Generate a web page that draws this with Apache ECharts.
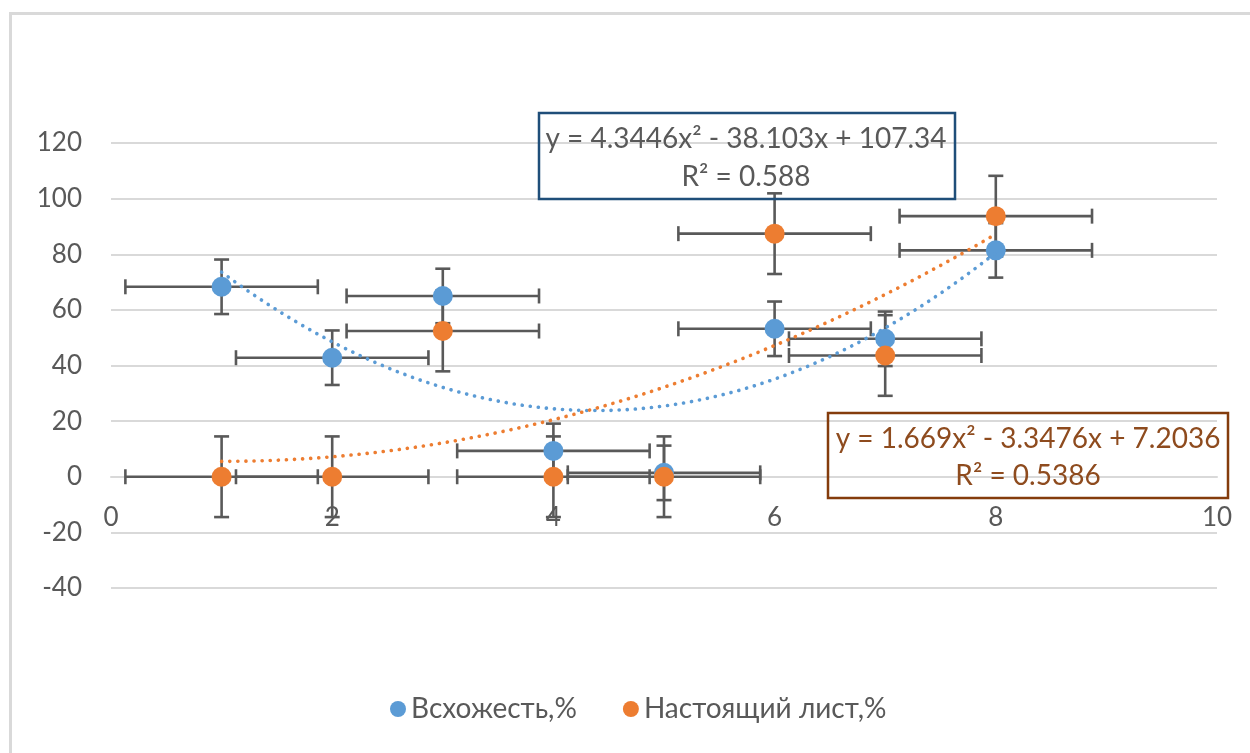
<!DOCTYPE html>
<html>
<head>
<meta charset="utf-8">
<script src="https://cdn.jsdelivr.net/npm/echarts@6/dist/echarts.min.js"></script>
<style>
html,body{margin:0;padding:0;background:#fff;}
#chart{width:1250px;height:753px;}
</style>
</head>
<body>
<div id="chart"></div>
<script>
// ---- data ----
var xValues      = [1, 2, 3, 4, 5, 6, 7, 8];
var germination  = [68.3, 42.8, 65.0, 9.3, 1.4, 53.2, 49.6, 81.4];   // Всхожесть,%
var trueLeaf     = [0, 0, 52.4, 0, 0, 87.4, 43.6, 93.7];             // Настоящий лист,%
var germErrY     = [9.8, 9.8, 9.8, 9.8, 9.8, 9.8, 9.8, 9.8];
var leafErrY     = [14.5, 14.5, 14.5, 14.5, 14.5, 14.5, 14.5, 14.5];
var errX         = [0.87, 0.87, 0.87, 0.87, 0.87, 0.87, 0.87, 0.87];
var seriesNames  = ['Всхожесть,%', 'Настоящий лист,%'];
// trendline coefficients (c0 + c1*x + c2*x^2), as printed on the chart
var germTrend    = [107.34, -38.103, 4.3446];
var leafTrend    = [7.2036, -3.3476, 1.669];
var germLabel    = ['y = 4.3446x² - 38.103x + 107.34', 'R² = 0.588'];
var leafLabel    = ['y = 1.669x² - 3.3476x + 7.2036', 'R² = 0.5386'];
var yTicks       = {min: -40, max: 120, interval: 20};
var xTicks       = {min: 0, max: 10, interval: 2};

var BLUE = '#5B9BD5', ORANGE = '#ED7D31', GRAY = '#595959', GRID = '#D9D9D9';
var FONT = "Lato, 'Noto Sans', sans-serif";

function pts(vals) { return xValues.map(function (x, i) { return [x, vals[i]]; }); }
function errPts(vals, ey) { return xValues.map(function (x, i) { return [x, vals[i], errX[i], ey[i]]; }); }
function trend(c) {
  var out = [];
  var x0 = xValues[0], x1 = xValues[xValues.length - 1];
  for (var k = 0; k <= 140; k++) {
    var x = x0 + (x1 - x0) * k / 140;
    out.push([x, c[0] + c[1] * x + c[2] * x * x]);
  }
  return out;
}

function errRender(params, api) {
  var x = api.value(0), y = api.value(1), ex = api.value(2), ey = api.value(3);
  var c = api.coord([x, y]);
  var l = api.coord([x - ex, y]), r = api.coord([x + ex, y]);
  var t = api.coord([x, y + ey]), b = api.coord([x, y - ey]);
  var cap = 7.5;
  var st = {stroke: GRAY, lineWidth: 2.6};
  function line(x1, y1, x2, y2) { return {type: 'line', shape: {x1: x1, y1: y1, x2: x2, y2: y2}, style: st}; }
  return {type: 'group', children: [
    line(l[0], c[1], r[0], c[1]),
    line(l[0], c[1] - cap, l[0], c[1] + cap),
    line(r[0], c[1] - cap, r[0], c[1] + cap),
    line(c[0], t[1], c[0], b[1]),
    line(c[0] - cap, t[1], c[0] + cap, t[1]),
    line(c[0] - cap, b[1], c[0] + cap, b[1])
  ]};
}

var GRID_TOP = 143, GRID_BOTTOM = 165, H = 753;
var plotH = H - GRID_TOP - GRID_BOTTOM;
// shift the x axis up so it sits on y = 0
var zeroOffset = -plotH * (0 - yTicks.min) / (yTicks.max - yTicks.min);

var chart = echarts.init(document.getElementById('chart'), null, {renderer: 'canvas'});
chart.setOption({
  backgroundColor: '#fff',
  animation: false,
  textStyle: {fontFamily: FONT},
  grid: {left: 111, right: 33, top: GRID_TOP, bottom: GRID_BOTTOM, containLabel: false},
  legend: {
    data: [
      {name: seriesNames[0], icon: 'circle'},
      {name: seriesNames[1], icon: 'circle'}
    ],
    left: 385, top: 690, itemWidth: 16, itemHeight: 16, itemGap: 46,
    textStyle: {color: GRAY, fontSize: 28, fontFamily: FONT}
  },
  xAxis: {
    type: 'value', min: xTicks.min, max: xTicks.max, interval: xTicks.interval,
    position: 'bottom', offset: zeroOffset,
    axisLine: {show: true, onZero: false, lineStyle: {color: GRID, width: 2}},
    axisTick: {show: false},
    splitLine: {show: false},
    axisLabel: {color: GRAY, fontSize: 26, margin: 28, fontFamily: FONT}
  },
  yAxis: {
    type: 'value', min: yTicks.min, max: yTicks.max, interval: yTicks.interval,
    axisLine: {show: false}, axisTick: {show: false},
    splitLine: {lineStyle: {color: GRID, width: 2}},
    axisLabel: {color: GRAY, fontSize: 26, margin: 29, fontFamily: FONT}
  },
  series: [
    {type: 'custom', name: 'errG', renderItem: errRender, data: errPts(germination, germErrY),
     encode: {x: 0, y: 1}, z: 2, silent: true},
    {type: 'scatter', name: seriesNames[0], data: pts(germination), symbolSize: 20,
     itemStyle: {color: BLUE, opacity: 1}, z: 2},
    {type: 'custom', name: 'errL', renderItem: errRender, data: errPts(trueLeaf, leafErrY),
     encode: {x: 0, y: 1}, z: 2, silent: true},
    {type: 'scatter', name: seriesNames[1], data: pts(trueLeaf), symbolSize: 20,
     itemStyle: {color: ORANGE, opacity: 1}, z: 2},
    {type: 'line', name: 'trendG', data: trend(germTrend), showSymbol: false, smooth: false, z: 3,
     lineStyle: {color: BLUE, width: 3.6, type: [0.1, 8], cap: 'round'}},
    {type: 'line', name: 'trendL', data: trend(leafTrend), showSymbol: false, smooth: false, z: 3,
     lineStyle: {color: ORANGE, width: 3.6, type: [0.1, 8], cap: 'round'}}
  ],
  graphic: [
    {type: 'rect', left: 8, top: 11, shape: {x: 0, y: 0, width: 1260, height: 760},
     style: {fill: 'none', stroke: GRID, lineWidth: 3}, z: -1, silent: true},
    {type: 'rect', shape: {x: 539, y: 113, width: 416, height: 86},
     style: {fill: 'none', stroke: '#1F4E79', lineWidth: 2.5}, z: 10},
    {type: 'text', x: 746, y: 139, style: {text: germLabel[0], fill: GRAY, font: '28px ' + FONT, align: 'center', verticalAlign: 'middle'}, z: 10},
    {type: 'text', x: 746, y: 177, style: {text: germLabel[1], fill: GRAY, font: '28px ' + FONT, align: 'center', verticalAlign: 'middle'}, z: 10},
    {type: 'rect', shape: {x: 828, y: 413, width: 400, height: 85},
     style: {fill: 'none', stroke: '#843C0C', lineWidth: 2.5}, z: 10},
    {type: 'text', x: 1028, y: 439, style: {text: leafLabel[0], fill: '#8E4B1E', font: '28px ' + FONT, align: 'center', verticalAlign: 'middle'}, z: 10},
    {type: 'text', x: 1028, y: 476, style: {text: leafLabel[1], fill: '#8E4B1E', font: '28px ' + FONT, align: 'center', verticalAlign: 'middle'}, z: 10}
  ]
});
</script>
</body>
</html>
